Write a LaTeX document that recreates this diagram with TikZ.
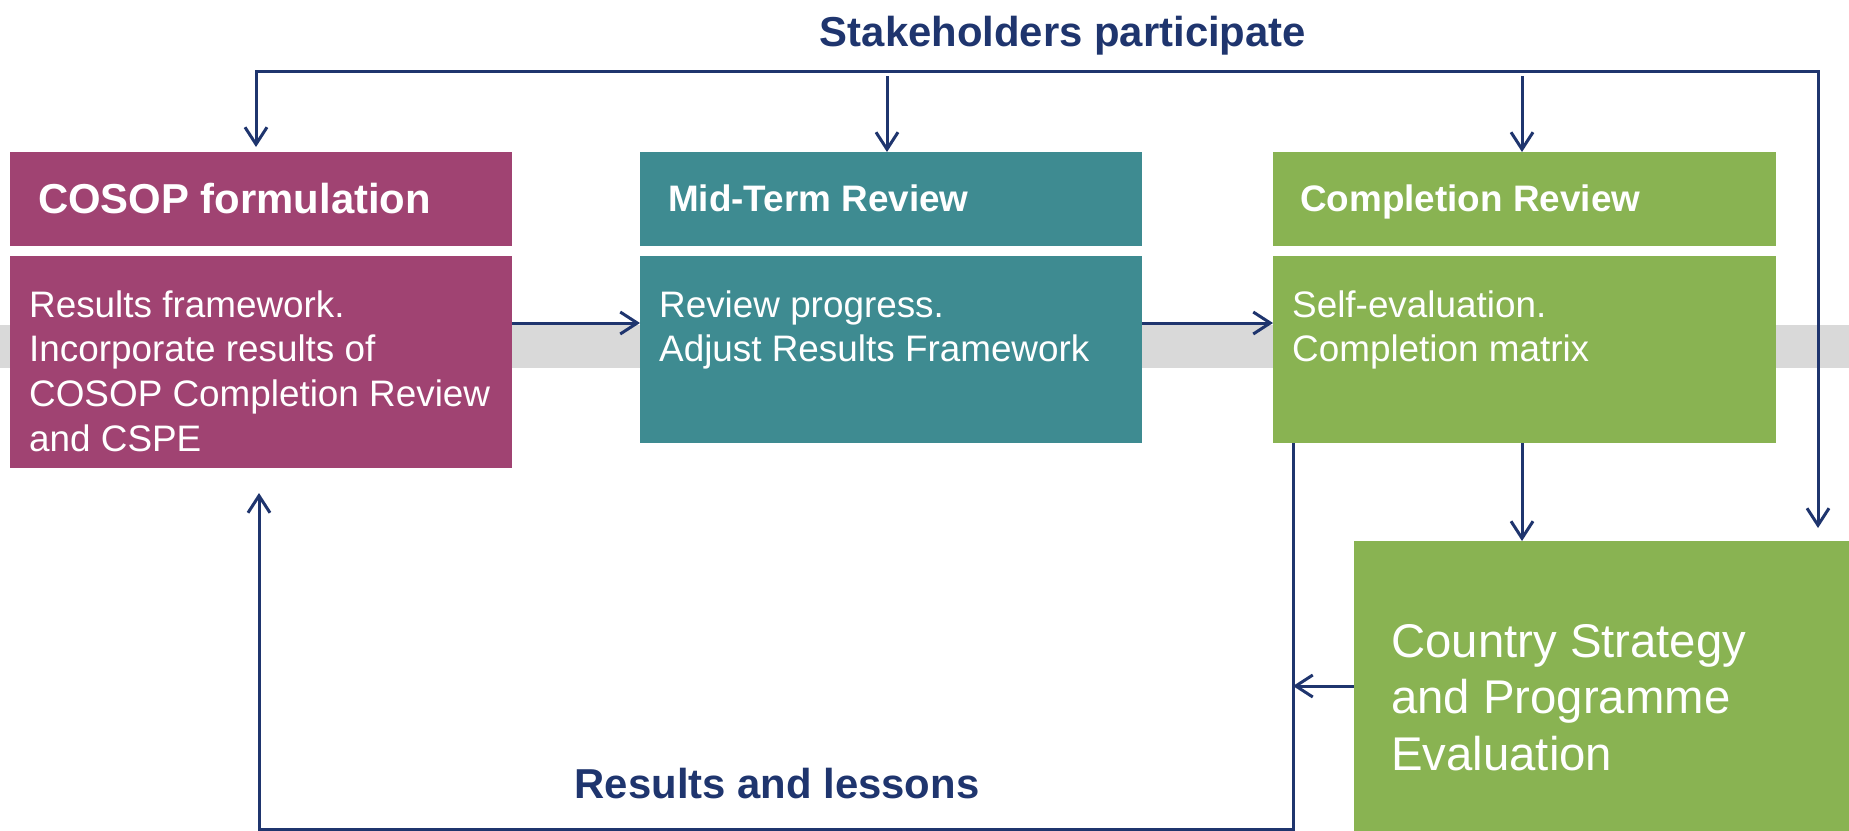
\documentclass[tikz,border=0pt]{standalone}
\usepackage{fontspec}
\setmainfont{Liberation Sans}
\usetikzlibrary{arrows.meta}
\definecolor{cmag}{RGB}{160,67,114}
\definecolor{cteal}{RGB}{62,139,145}
\definecolor{cgreen}{RGB}{137,179,82}
\definecolor{navy}{RGB}{31,53,110}
\definecolor{band}{RGB}{217,217,217}
\newcommand{\mlines}[1]{\begin{tabular}[t]{@{}l@{}}#1\end{tabular}}
\begin{document}
\begin{tikzpicture}[x=1bp,y=-1bp,
  box/.style={draw=none, inner sep=0, outer sep=0, anchor=north west, minimum width=502bp},
  conn/.style={draw=navy, line width=3bp},
  tip/.style={Straight Barb[length=17bp,width=22bp]},
  arr/.style={conn, -{Straight Barb[length=17bp,width=22bp]}},
  hdr/.style={anchor=base west, inner sep=0, text=white, font=\bfseries\fontsize{37}{44}\selectfont},
  body/.style={anchor=base west, inner sep=0, text=white, font=\fontsize{37}{45}\selectfont},
  lbl/.style={anchor=base, inner sep=0, text=navy, font=\bfseries\fontsize{42}{50}\selectfont}]
\useasboundingbox (0,0) rectangle (1849,831);
\fill[band] (0,325) rectangle (1849,368);
% boxes
\node[box, fill=cmag, minimum height=94bp] (cosophead) at (10,152) {};
\node[box, fill=cmag, minimum height=212bp] (cosopbody) at (10,256) {};
\node[box, fill=cteal, minimum height=94bp] (mtrhead) at (640,152) {};
\node[box, fill=cteal, minimum height=187bp] (mtrbody) at (640,256) {};
\node[box, fill=cgreen, minimum width=503bp, minimum height=94bp] (crhead) at (1273,152) {};
\node[box, fill=cgreen, minimum width=503bp, minimum height=187bp] (crbody) at (1273,256) {};
\node[box, fill=cgreen, minimum width=495bp, minimum height=290bp] (cspe) at (1354,541) {};
% texts
\node[lbl] (title) at (1063,46) {Stakeholders participate};
\node[lbl] (lessons) at (777,798) {Results and lessons};
\node[hdr, font=\bfseries\fontsize{42}{50}\selectfont] (cosopt) at (38,213) {COSOP formulation};
\node[hdr] (mtrt) at (668,211) {Mid-Term Review};
\node[hdr] (crt) at (1300,211) {Completion Review};
\node[body] (cosopb) at (29,317) {\mlines{Results framework.\\Incorporate results of\\COSOP Completion Review\\and CSPE}};
\node[body] (mtrb) at (659,317) {\mlines{Review progress.\\Adjust Results Framework}};
\node[body] (crb) at (1292,317) {\mlines{Self-evaluation.\\Completion matrix}};
\node[body, font=\fontsize{47.5}{57}\selectfont] (cspet) at (1391,657) {\mlines{Country Strategy\\and Programme\\Evaluation}};
% connectors
\coordinate (tl) at (256,71);
\coordinate (tr) at (1818,71);
\coordinate (s2) at (887,76);
\coordinate (s3) at (1522,76);
\coordinate (leg) at (1293,443);
\coordinate (bl) at (259,829);
\draw[conn, {Straight Barb[length=17bp,width=22bp]}-{Straight Barb[length=17bp,width=22bp]}, shorten <=5bp, shorten >=13bp]
  (tl |- cosophead.north) -- (tl) -- (tr) -- (tr |- cspe.north);
\draw[arr] (s2) -- (s2 |- mtrhead.north);
\draw[arr] (s3) -- (s3 |- crhead.north);
\draw[arr] ([yshift=-67bp]cosopbody.north east) -- ([yshift=-67bp]mtrbody.north west);
\draw[arr] ([yshift=-67bp]mtrbody.north east) -- ([yshift=-67bp]crbody.north west);
\draw[arr] (s3 |- crbody.south) -- (s3 |- cspe.north);
\draw[arr, shorten >=25bp] (leg |- crbody.south) -- (leg |- bl) -- (bl) -- (bl |- cosopbody.south);
\draw[arr] (cspe.west) -- (cspe.west -| leg);
\end{tikzpicture}
\end{document}
